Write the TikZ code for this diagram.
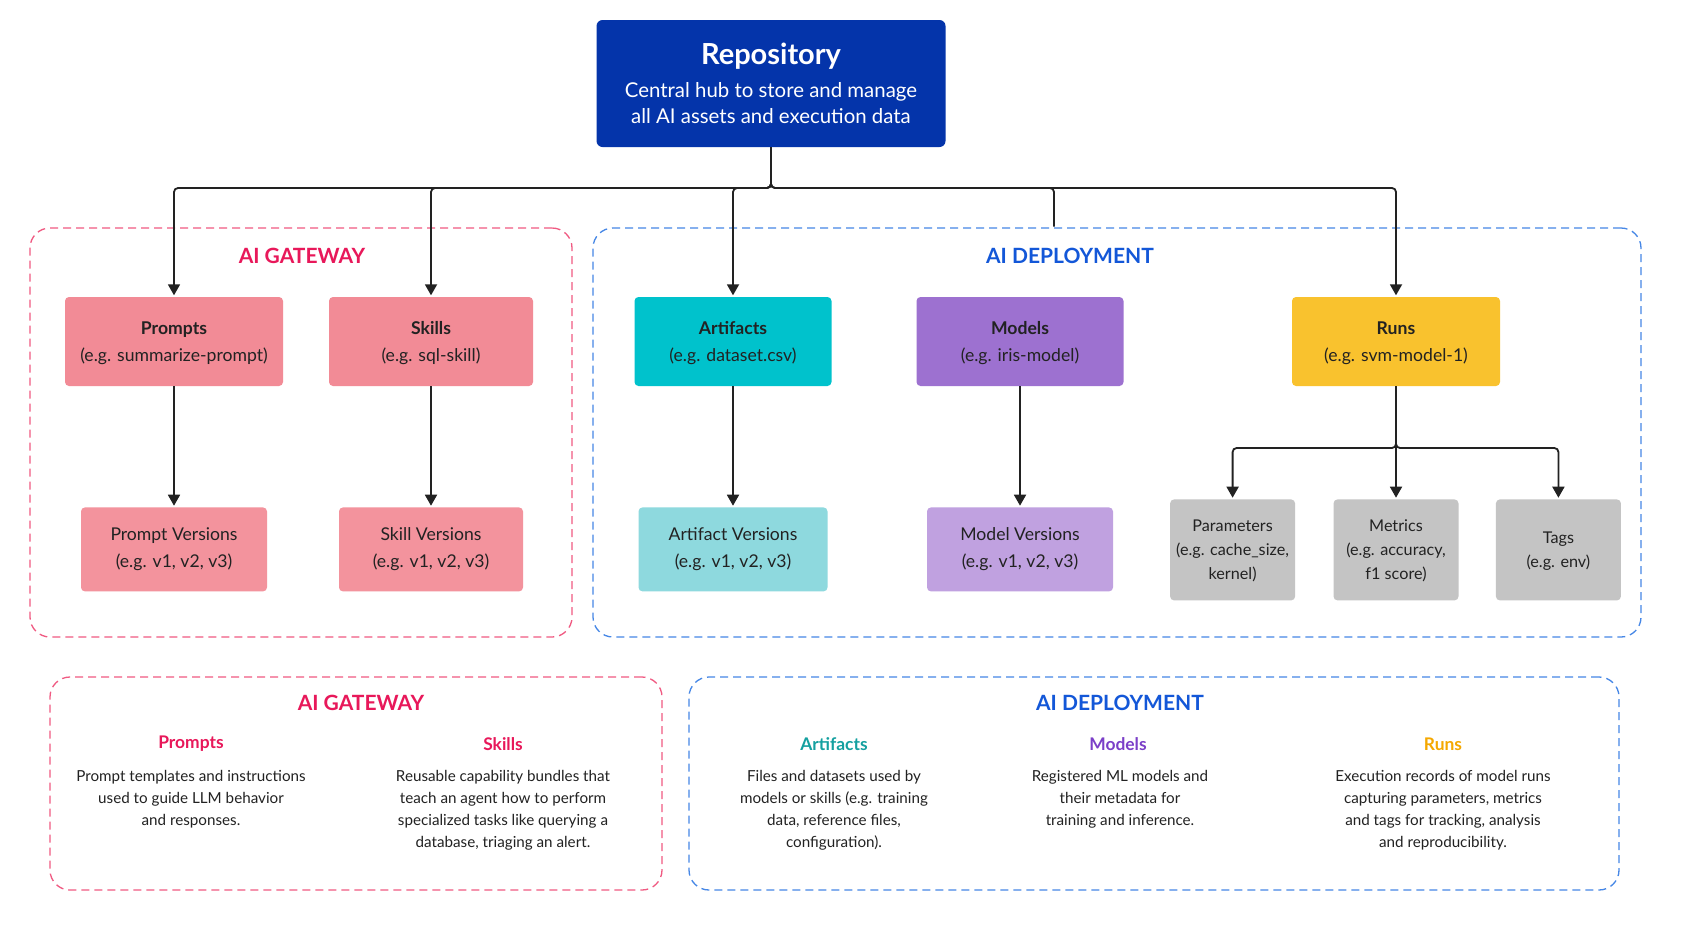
\documentclass[tikz,border=0pt]{standalone}
\usepackage{fontspec}
\setmainfont{Lato}
\usetikzlibrary{positioning,arrows.meta}
\definecolor{repoblue}{RGB}{4,52,170}
\definecolor{rose}{RGB}{242,139,150}
\definecolor{roselt}{RGB}{243,147,157}
\definecolor{aqua}{RGB}{0,194,204}
\definecolor{aqualt}{RGB}{142,217,222}
\definecolor{lilac}{RGB}{157,113,208}
\definecolor{lilaclt}{RGB}{192,161,224}
\definecolor{amber}{RGB}{249,194,46}
\definecolor{stone}{RGB}{196,196,196}
\definecolor{ink}{RGB}{34,34,34}
\definecolor{gwline}{RGB}{240,90,130}
\definecolor{gwtext}{RGB}{232,24,90}
\definecolor{dpline}{RGB}{70,135,230}
\definecolor{dptext}{RGB}{19,87,216}
\definecolor{akey}{RGB}{20,160,160}
\definecolor{mkey}{RGB}{123,63,200}
\definecolor{rkey}{RGB}{245,168,0}

\begin{document}
\begin{tikzpicture}[x=1pt,y=-1pt,>={Triangle[width=12pt,length=11pt]},
    conn/.style={draw=ink,line width=1.8pt,rounded corners=4pt,shorten >=1.5pt},
    entity/.style={rounded corners=4pt,align=center,text=ink,text depth=0pt,minimum height=89pt,font=\fontsize{17.6}{27}\selectfont},
    version/.style={rounded corners=4pt,align=center,text=ink,minimum height=84pt,font=\fontsize{17.6}{27}\selectfont},
    detail/.style={rounded corners=4pt,align=center,text=ink,text depth=0pt,fill=stone,inner xsep=2pt,minimum height=101pt,minimum width=125pt,font=\fontsize{16.2}{24}\selectfont},
    group/.style={rounded corners=20pt,line width=1.3pt,dash pattern=on 8pt off 5pt},
    head/.style={font=\fontsize{21}{24}\selectfont\bfseries},
    keytitle/.style={font=\fontsize{17.4}{20}\selectfont\bfseries},
    blurb/.style={align=center,anchor=north,text=ink,font=\fontsize{15.2}{21.8}\selectfont}]
  \fill[white] (0,0) rectangle (1691,930);
  \useasboundingbox (0,0) rectangle (1691,930);

  % top of the tree
  \node[fill=repoblue,text=white,rounded corners=6pt,align=center,minimum width=349pt,minimum height=127pt,
    font=\fontsize{20.4}{26.5}\selectfont] (repo) at (771,83.5)
    {{\fontsize{29}{32}\selectfont\bfseries Repository}\\[6pt]Central hub to store and manage\\all AI assets and execution data};

  % the two groups
  \node[group,draw=gwline,minimum width=542pt,minimum height=409pt] (gateway) at (301,432.5) {};
  \node[group,draw=dpline,minimum width=1048pt,minimum height=409pt] (deploy) at (1117,432.5) {};
  \node[head,text=gwtext] (gwlabel) at (302,256) {AI GATEWAY};
  \node[head,text=dptext] (dplabel) at (1070,256) {AI DEPLOYMENT};

  % entities
  \node[entity,fill=rose,minimum width=218pt] (prompts) at (174,341.5) {\textbf{Prompts}\\(e.g. summarize-prompt)};
  \node[entity,fill=rose,minimum width=204pt] (skills) at (431,341.5) {\textbf{Skills}\\(e.g. sql-skill)};
  \node[entity,fill=aqua,minimum width=197pt] (artifacts) at (733,341.5) {\textbf{Artifacts}\\(e.g. dataset.csv)};
  \node[entity,fill=lilac,minimum width=207pt] (models) at (1020,341.5) {\textbf{Models}\\(e.g. iris-model)};
  \node[entity,fill=amber,minimum width=208pt] (runs) at (1396,341.5) {\textbf{Runs}\\(e.g. svm-model-1)};

  % versions
  \node[version,fill=roselt,minimum width=186pt,below=121pt of prompts] (pver) {Prompt Versions\\(e.g. v1, v2, v3)};
  \node[version,fill=roselt,minimum width=184pt,below=121pt of skills] (sver) {Skill Versions\\(e.g. v1, v2, v3)};
  \node[version,fill=aqualt,minimum width=189pt,below=121pt of artifacts] (aver) {Artifact Versions\\(e.g. v1, v2, v3)};
  \node[version,fill=lilaclt,minimum width=186pt,below=121pt of models] (mver) {Model Versions\\(e.g. v1, v2, v3)};

  % run details
  \node[detail,below=113pt of runs] (metrics) {Metrics\\(e.g. accuracy,\\f1 score)};
  \node[detail,left=38pt of metrics] (params) {Parameters\\(e.g. cache\_size,\\kernel)};
  \node[detail,right=37pt of metrics] (tags) {Tags\\(e.g. env)};

  % connectors
  \coordinate (bus) at (771,188);
  \coordinate (dtop) at (1054,228);
  \coordinate (rbus) at (1396,448);
  \draw[conn,->] (repo.south) -- (bus) -| (prompts.north);
  \draw[conn,->] (repo.south) -- (bus) -| (skills.north);
  \draw[conn,->] (repo.south) -- (bus) -| (artifacts.north);
  \draw[conn] (repo.south) -- (bus) -| (dtop);
  \draw[conn,->] (repo.south) -- (bus) -| (runs.north);
  \draw[conn,->] (prompts) -- (pver);
  \draw[conn,->] (skills) -- (sver);
  \draw[conn,->] (artifacts) -- (aver);
  \draw[conn,->] (models) -- (mver);
  \draw[conn,->] (runs.south) -- (rbus) -| (params.north);
  \draw[conn,->] (runs.south) -- (metrics.north);
  \draw[conn,->] (runs.south) -- (rbus) -| (tags.north);

  % key boxes
  \node[group,draw=gwline,minimum width=612pt,minimum height=213pt] (gwkey) at (356,783.5) {};
  \node[group,draw=dpline,minimum width=930pt,minimum height=213pt] (dpkey) at (1154,783.5) {};
  \node[head,text=gwtext] (gwkeyhead) at (361,703) {AI GATEWAY};
  \node[head,text=dptext] (dpkeyhead) at (1120,703) {AI DEPLOYMENT};

  \node[keytitle,text=gwtext] (kprompts) at (191,744) {Prompts};
  \node[keytitle,text=gwtext] (kskills) at (503,744) {Skills};
  \node[keytitle,text=akey] (kartifacts) at (834,744) {Artifacts};
  \node[keytitle,text=mkey] (kmodels) at (1118,744) {Models};
  \node[keytitle,text=rkey] (kruns) at (1443,744) {Runs};

  \node[blurb] (tprompts) at (191,767) {Prompt templates and instructions\\used to guide LLM behavior\\and responses.};
  \node[blurb] (tskills) at (503,767) {Reusable capability bundles that\\teach an agent how to perform\\specialized tasks like querying a\\database, triaging an alert.};
  \node[blurb] (tartifacts) at (834,767) {Files and datasets used by\\models or skills (e.g. training\\data, reference files,\\configuration).};
  \node[blurb] (tmodels) at (1120,767) {Registered ML models and\\their metadata for\\training and inference.};
  \node[blurb] (truns) at (1443,767) {Execution records of model runs\\capturing parameters, metrics\\and tags for tracking, analysis\\and reproducibility.};
\end{tikzpicture}
\end{document}
